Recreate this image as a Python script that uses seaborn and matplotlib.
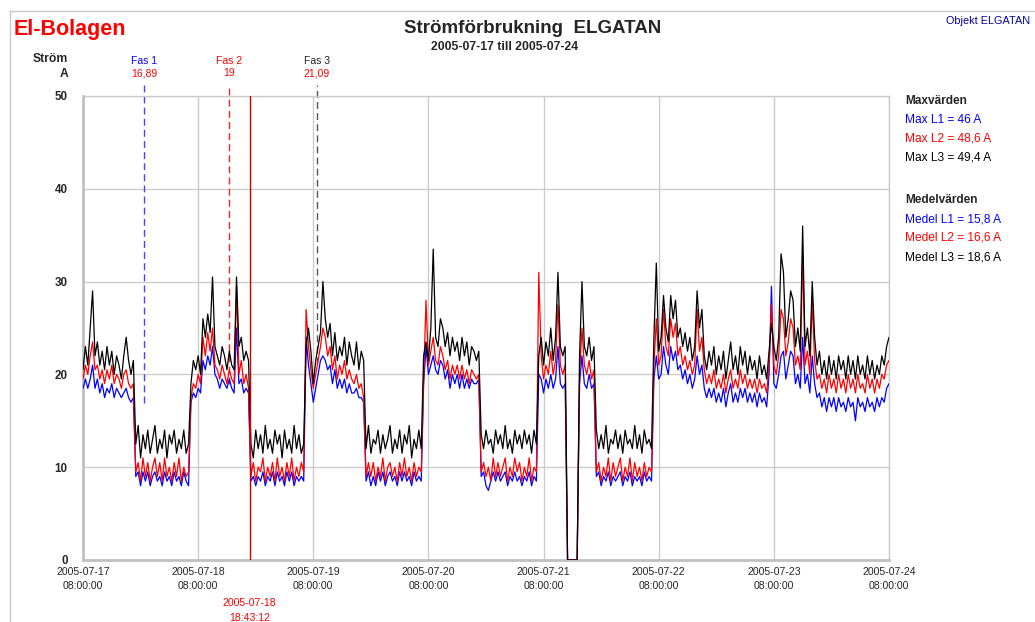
import pandas as pd
import numpy as np
import matplotlib.pyplot as plt
import matplotlib.dates as mdates
from matplotlib import transforms
from matplotlib.lines import Line2D
import seaborn as sns

# Current per phase every 30 min, 2005-07-17 08:00 .. 2005-07-24 08:00
fas_l1 = [18.5, 19.5, 18.5, 19.5, 21, 18.5, 19.5, 18, 19, 17.5, 18.5, 18, 19, 17.5, 18.5, 18, 17.5, 18, 18.5, 17.5, 17, 17.5,
          9, 9.5, 8, 9.5, 8.5, 9.5, 8, 9, 9.5, 8.5, 9, 8, 9.5, 8.5, 9, 8, 9.5, 8.5, 9, 8, 9.5, 8.5, 8,
          17, 18, 17.5, 18.5, 18, 21.5, 20.5, 22, 21, 23, 20, 19.5, 18.5, 19.5, 19, 18.5, 19.5, 18.5, 18, 25, 19, 19.5, 18, 18.5, 18,
          8.5, 9, 8, 9, 8.5, 9.5, 8, 9, 8.5, 9.5, 8, 9.5, 8.5, 9, 8, 9.5, 8.5, 9.5, 8, 9, 8.5, 9, 8.5,
          24, 21, 19, 17, 18.5, 20, 21.5, 22, 21.5, 20.5, 21, 19, 20.5, 18.5, 19.5, 18.5, 19.5, 18, 19, 18, 18, 18.5, 17.5, 17.5, 17,
          8.5, 9.5, 8, 9, 8, 9.5, 8.5, 9.5, 8, 9, 9.5, 8.5, 9, 8, 9.5, 8.5, 9.5, 8.5, 9, 8, 9.5, 8.5, 9, 8.5,
          19, 23, 20, 21, 22, 20.5, 20, 21.5, 21, 19.5, 20.5, 18.5, 20, 19, 20, 18.5, 20, 18.5, 19.5, 18.5, 19.5, 19, 19, 19.5,
          9, 9.5, 8, 7.5, 8.5, 9.5, 8.5, 9.5, 8.5, 9, 9.5, 8, 9, 8.5, 9.5, 8.5, 9, 8, 9, 8.5, 9.5, 8, 9, 8.5,
          20, 19.5, 18, 19.5, 18.5, 20, 18.5, 19.5, 23, 19, 18.5, 19,
          0, 0, 0, 0, 0,
          19, 22, 19, 18.5, 20, 18.5, 19,
          9, 9.5, 8, 9, 8.5, 9.5, 8, 9, 8.5, 9, 9.5, 8, 9, 8.5, 9.5, 8, 9, 8.5, 9, 8, 9.5, 8.5, 9, 8.5,
          19.5, 22, 19.5, 20, 23, 21, 20, 23, 21.5, 22.5, 20.5, 21, 19.5, 20.5, 19, 20, 18.5, 19.5, 22, 20,
          21, 18.5, 17.5, 18.5, 17.5, 18.5, 17, 18, 17, 18.5, 16.5, 18, 19, 17, 18, 17, 18.5, 17.5, 18.5, 17,
          18, 17, 18, 16.5, 18, 17, 17.5, 16.5, 20, 29.5, 19, 18.5, 20, 22, 22.5, 19.5, 21, 22.5, 22, 19,
          20, 18.5, 24, 19, 20, 18, 22, 19, 17.5, 18, 16.5, 17.5, 16, 17.5, 16.5, 17.5, 16, 17.5, 16.5, 17,
          16, 17.5, 16.5, 17, 15, 17.5, 16.5, 17, 16, 17.5, 16.5, 17, 16, 17.5, 16.5, 17.5, 17, 18.5, 19]

fas_l2 = [19.5, 21, 20, 22, 23.5, 20.5, 21, 19.5, 20.5, 19, 20.5, 19.5, 21, 19, 20, 19.5, 18.5, 20, 20.5, 19, 18.5, 19,
          9.5, 10.5, 8.5, 11, 9, 10.5, 8.5, 10, 11, 9, 10.5, 8.5, 11, 9, 10, 8.5, 10.5, 9, 11, 8.5, 10, 9, 9.5,
          17.5, 19, 18.5, 20, 19, 24, 22, 24.5, 22.5, 25, 21, 20.5, 19.5, 21, 20, 19, 20.5, 19.5, 19, 29.5, 20, 21.5, 19, 20, 18.5,
          9, 10.5, 8.5, 10, 9.5, 11, 8.5, 10, 9, 10.5, 8.5, 11, 9, 10, 8.5, 10.5, 9, 11, 8.5, 10, 9, 10.5, 9.5,
          27, 23, 20.5, 18.5, 20, 21.5, 23, 25, 24, 22, 23, 20.5, 22, 19.5, 21, 20, 21.5, 19.5, 20.5, 19.5, 19, 20, 18.5, 19, 17.5,
          9, 10.5, 9, 10.5, 8.5, 10, 9, 11, 8.5, 10, 10.5, 9, 10, 8.5, 10.5, 9, 11, 9, 10, 8.5, 10.5, 9, 10, 9.5,
          19.5, 28, 21, 22.5, 24, 21.5, 21, 23, 22, 20.5, 21.5, 19.5, 21, 20, 21, 19.5, 21, 19.5, 20.5, 19, 20.5, 20, 19.5, 20,
          9.5, 10.5, 9, 10, 8.5, 11, 9, 10.5, 9, 10, 11, 8.5, 10, 9, 11, 9.5, 10.5, 8.5, 10, 9, 11, 8.5, 10, 9.5,
          31, 22, 19.5, 21, 20, 22.5, 20, 21.5, 27.5, 21, 20, 21,
          0, 0, 0, 0, 0,
          20, 25, 21, 20, 21.5, 19.5, 20.5,
          9.5, 10.5, 8.5, 10, 9, 11, 8.5, 10.5, 9, 10, 11, 8.5, 10, 9, 11, 8.5, 10.5, 9, 10, 8.5, 10.5, 9, 10, 9.5,
          21, 26, 21, 22, 27, 23, 22, 26, 24, 25.5, 22, 23, 21, 22, 20.5, 21.5, 20, 21, 27, 22.5,
          24, 20.5, 19, 20, 19, 20.5, 18.5, 19.5, 18.5, 20, 18, 19.5, 20.5, 18.5, 19.5, 18.5, 20.5, 19, 20, 18.5,
          19.5, 18.5, 19.5, 18, 19.5, 18.5, 19, 18, 21, 27.5, 21, 20, 22, 27, 26, 22, 23.5, 26, 25, 21,
          22, 20.5, 33, 21, 22.5, 20, 28, 21.5, 19.5, 20, 18.5, 19.5, 18, 20, 18.5, 19.5, 18, 20, 18.5, 19.5,
          18, 20, 18.5, 19.5, 18, 20, 18.5, 19, 18, 20, 18.5, 19.5, 18, 19.5, 18.5, 20, 19.5, 21, 21.5]

fas_l3 = [20.5, 23, 21, 25, 29, 22, 23.5, 21, 22.5, 20.5, 23, 21, 22.5, 20, 22, 21, 19.5, 22, 24, 21.5, 20, 21.5,
          12.5, 14.5, 11, 13.5, 12, 14, 11.5, 13, 14.5, 11.5, 13, 12, 14, 11, 13.5, 12.5, 14, 11.5, 13, 12, 14, 11.5, 12.5,
          19, 21.5, 20.5, 22, 20, 26, 24, 26.5, 24.5, 30.5, 23, 22, 21, 23, 22, 20.5, 22.5, 21, 20.5, 30.5, 23, 24, 21.5, 22.5, 21.5,
          12.5, 11, 14, 12, 13.5, 11.5, 14.5, 12, 13, 11.5, 14, 12.5, 13.5, 11, 14, 12, 13, 11.5, 14.5, 12, 13.5, 11.5, 12.5,
          23, 25, 22.5, 19, 21.5, 23, 24.5, 30, 26, 24, 25.5, 22, 24.5, 21.5, 23, 22, 24, 21, 23.5, 22, 21, 23.5, 20.5, 22.5, 21.5,
          12, 14.5, 11.5, 13, 12.5, 14, 11.5, 13.5, 12, 13, 14.5, 11.5, 13, 12, 14, 11.5, 13.5, 12.5, 14.5, 11, 13, 12, 14, 12,
          22, 23.5, 21.5, 25, 33.5, 24, 23, 26, 25, 23, 24.5, 22, 24, 22.5, 23.5, 21.5, 24, 22, 23.5, 21, 23, 22.5, 21.5, 22.5,
          13.5, 12, 14, 12.5, 13, 11.5, 14, 12.5, 13.5, 12, 14.5, 12, 13, 11.5, 14, 12.5, 13.5, 12, 14, 12.5, 13.5, 11.5, 14, 12.5,
          22, 24, 21, 23.5, 22, 25, 21.5, 24, 31, 23, 22, 23,
          0, 0, 0, 0, 0,
          22, 30, 23, 22, 24, 21.5, 23,
          14, 12, 13.5, 12, 14.5, 11.5, 13, 12.5, 14, 12, 13.5, 11.5, 14, 12.5, 13, 12, 14.5, 12, 13.5, 11.5, 14, 12.5, 13, 12,
          24, 32, 22.5, 24, 28.5, 25, 23.5, 28.5, 26, 28, 24, 25, 23, 24.5, 22.5, 24, 21.5, 23, 29, 25,
          27, 22, 20.5, 22.5, 21, 23, 20, 22, 20.5, 22.5, 19.5, 21.5, 23.5, 20.5, 22, 20, 23, 21, 22.5, 20,
          22, 20.5, 21.5, 19.5, 22, 20, 21, 19.5, 22.5, 25.5, 23, 21.5, 24, 33, 31, 24, 26, 29, 28, 23,
          25, 22.5, 36, 23, 25, 22, 30, 24, 21, 22.5, 20, 21.5, 19.5, 22, 20, 21.5, 19.5, 22, 20.5, 21.5,
          19.5, 22, 20, 21.5, 19.5, 22, 20, 21, 19.5, 22, 20, 21.5, 19.5, 21, 20, 22, 21, 23, 24]

fas_namn = ['Fas 1', 'Fas 2', 'Fas 3']
fas_tid = ['2005-07-17 20:42', '2005-07-18 14:25', '2005-07-19 08:45']
fas_varde = [16.89, 19, 21.09]
fas_text = ['16,89', '19', '21,09']

markor_tid = '2005-07-18 18:43:12'

max_text = ['Max L1 = 46 A', 'Max L2 = 48,6 A', 'Max L3 = 49,4 A']
medel_text = ['Medel L1 = 15,8 A', 'Medel L2 = 16,6 A', 'Medel L3 = 18,6 A']

farger = ['#0000ff', '#ff0000', '#000000']

W, H = 1035, 622

assert len(fas_l1) == len(fas_l2) == len(fas_l3) == 337, (len(fas_l1), len(fas_l2), len(fas_l3))

tid = pd.date_range('2005-07-17 08:00', periods=len(fas_l3), freq='30min')
df = pd.DataFrame({'tid': tid, 'L1': fas_l1, 'L2': fas_l2, 'L3': fas_l3})
df = df.melt(id_vars='tid', var_name='fas', value_name='strom')

sns.set_style('white')
plt.rcParams['font.family'] = ['Liberation Sans', 'DejaVu Sans']


def fy(py):
    return 1 - py / H


def fx(px):
    return px / W


fig = plt.figure(figsize=(W / 100, H / 100), dpi=100)
ax = fig.add_axes([fx(83), fy(560), 806 / W, 464 / H])

sns.lineplot(data=df, x='tid', y='strom', hue='fas', hue_order=['L1', 'L2', 'L3'],
             palette=dict(zip(['L1', 'L2', 'L3'], farger)), linewidth=0.9,
             errorbar=None, legend=False, ax=ax, zorder=3)

ax.set_xlim(pd.Timestamp('2005-07-17 08:00'), pd.Timestamp('2005-07-24 08:00'))
ax.set_ylim(0, 50)
ax.set_xlabel('')
ax.set_ylabel('')

ax.xaxis.set_major_locator(mdates.HourLocator(byhour=[8]))
ax.xaxis.set_major_formatter(mdates.DateFormatter('%Y-%m-%d\n%H:%M:%S'))
ax.set_yticks(range(0, 51, 10))
ax.tick_params(axis='x', length=0, pad=5, labelsize=7.6)
ax.tick_params(axis='y', length=0, pad=11, labelsize=8.4)
for lab in ax.get_yticklabels():
    lab.set_fontweight('bold')
for lab in ax.get_xticklabels():
    lab.set_linespacing(1.45)

ax.grid(True, color='#cccccc', linewidth=1)
for s in ['left', 'bottom']:
    ax.spines[s].set_color('#c0c0c0')
    ax.spines[s].set_linewidth(2)
for s in ['top', 'right']:
    ax.spines[s].set_color('#cccccc')
    ax.spines[s].set_linewidth(1)

# phase markers (dashed) above the plot
blend = transforms.blended_transform_factory(ax.transData, fig.transFigure)
dash_farger = ['#4444ff', '#ff2020', '#555555']
for namn, t, v, txt, c, dc in zip(fas_namn, fas_tid, fas_varde, fas_text, farger, dash_farger):
    t = pd.Timestamp(t)
    ax.plot([t, t], [v, 51.2], color=dc, linewidth=1, linestyle=(0, (5, 3)),
            clip_on=False, zorder=2)
    fig.text(mdates.date2num(t), fy(64), namn, color=c if c != '#000000' else '#222222',
             fontsize=7.5, ha='center', va='baseline', transform=blend)
    fig.text(mdates.date2num(t), fy(76), txt, color='#ff0000', fontsize=7.5,
             ha='center', va='baseline', transform=blend)

# red time marker
mt = pd.Timestamp(markor_tid)
ax.axvline(mt, color='#d00000', linewidth=1, zorder=4)
fig.text(mdates.date2num(mt), fy(606), '2005-07-18', color='#ff0000', fontsize=7.6,
         ha='center', va='baseline', transform=blend)
fig.text(mdates.date2num(mt), fy(621), '18:43:12', color='#ff0000', fontsize=7.6,
         ha='center', va='baseline', transform=blend)

# header texts
fig.text(fx(14), fy(35), 'El-Bolagen', color='#ff0000', fontsize=15.5, fontweight='bold',
         ha='left', va='baseline')
fig.text(fx(533), fy(33), 'Strömförbrukning  ELGATAN', fontsize=13.5, fontweight='bold',
         ha='center', va='baseline')
fig.text(fx(505), fy(50), '2005-07-17 till 2005-07-24', fontsize=8.8, fontweight='bold',
         ha='center', va='baseline')
fig.text(fx(1030), fy(24), 'Objekt ELGATAN', color='#000099', fontsize=7.8,
         ha='right', va='baseline')
fig.text(fx(68), fy(62), 'Ström', fontsize=8.7, fontweight='bold', ha='right', va='baseline')
fig.text(fx(68), fy(77), 'A', fontsize=8.7, fontweight='bold', ha='right', va='baseline')

# max / mean values on the right
fig.text(fx(905), fy(104), 'Maxvärden', fontsize=8.6, fontweight='bold', va='baseline')
for i, (txt, c) in enumerate(zip(max_text, farger)):
    fig.text(fx(905), fy(123 + 19 * i), txt, color=c, fontsize=8.6, va='baseline')
fig.text(fx(905), fy(203), 'Medelvärden', fontsize=8.6, fontweight='bold', va='baseline')
for i, (txt, c) in enumerate(zip(medel_text, farger)):
    fig.text(fx(905), fy(222 + 19 * i), txt, color=c, fontsize=8.6, va='baseline')

# outer frame
fig.add_artist(Line2D([fx(10), 1.0], [fy(11), fy(11)], color='#c8c8c8', linewidth=1))
fig.add_artist(Line2D([fx(10), fx(10)], [fy(11), 0.0], color='#c8c8c8', linewidth=1))

fig.savefig('out.png', dpi=100)
plt.close()
